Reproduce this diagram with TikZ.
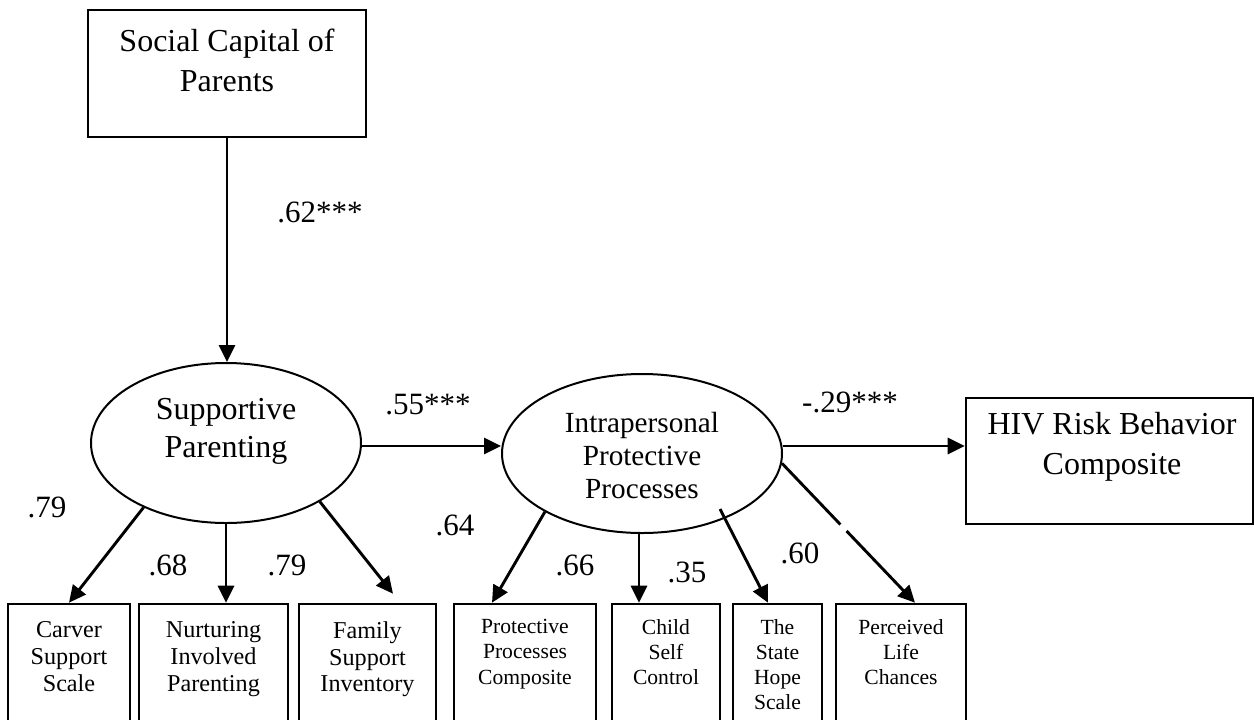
\documentclass[tikz,border=0pt]{standalone}
\usepackage{fontspec}
\setmainfont{Liberation Serif}
\usetikzlibrary{arrows.meta,shapes.geometric,calc}
\tikzset{
  box/.style={draw, rectangle, line width=1.3pt, inner sep=0pt},
  lat/.style={draw, ellipse, line width=1pt, inner sep=0pt},
  arr/.style={-{Triangle[length=8.5pt,width=8pt]}, line width=1.45pt},
  bigtxt/.style={font=\fontsize{16}{20}\selectfont, align=center, inner sep=0pt},
  midtxt/.style={font=\fontsize{14.6}{16.5}\selectfont, align=center, inner sep=0pt},
  lefttxt/.style={font=\fontsize{12.1}{13.4}\selectfont, align=center, inner sep=0pt, anchor=north},
  righttxt/.style={font=\fontsize{10.8}{12.6}\selectfont, align=center, inner sep=0pt, anchor=north},
  lab/.style={font=\fontsize{15.5}{18}\selectfont, inner sep=0pt}
}
\begin{document}
\begin{tikzpicture}[x=0.5pt,y=-0.5pt]
\useasboundingbox (0,0) rectangle (1254,719);
\fill[white] (0,0) rectangle (1254,719);

% top box
\node[box, minimum width=139pt, minimum height=63.5pt] (sc) at (227,73.5) {};
\node[bigtxt] (sctxt) at (227,60) {Social Capital of\\Parents};

% latent variables
\node[lat, minimum width=135pt, minimum height=80pt] (sp) at (226,443) {};
\node[bigtxt, font=\fontsize{16}{19}\selectfont] (sptxt) at (226,431) {Supportive\\Parenting};
\node[lat, minimum width=140pt, minimum height=79.5pt] (ip) at (642,453.5) {};
\node[midtxt] (iptxt) at (642,456) {Intrapersonal\\Protective\\Processes};

% outcome
\node[box, minimum width=143.5pt, minimum height=63pt] (hiv) at (1109.5,461) {};
\node[bigtxt] (hivtxt) at (1112,447) {HIV Risk Behavior\\Composite};

% indicators
\node[box, minimum width=61pt, minimum height=60.5pt] (cs) at (69,664.5) {};
\node[box, minimum width=74.5pt, minimum height=60.5pt] (nu) at (213.5,664.5) {};
\node[box, minimum width=68.5pt, minimum height=60.5pt] (fa) at (367.5,664.5) {};
\node[box, minimum width=71pt, minimum height=60.5pt] (pr) at (525,664.5) {};
\node[box, minimum width=54pt, minimum height=60.5pt] (ch) at (666,664.5) {};
\node[box, minimum width=44.5pt, minimum height=60.5pt] (st) at (777.5,664.5) {};
\node[box, minimum width=65pt, minimum height=60.5pt] (pe) at (901,664.5) {};

\node[lefttxt] (cstxt) at (69,621) {Carver\\Support\\Scale};
\node[lefttxt] (nutxt) at (213.5,621) {Nurturing\\Involved\\Parenting};
\node[lefttxt] (fatxt) at (367.5,621) {Family\\Support\\Inventory};
\node[righttxt] (prtxt) at (525,619) {Protective\\Processes\\Composite};
\node[righttxt] (chtxt) at (666,619) {Child\\Self\\Control};
\node[righttxt] (sttxt) at (777.5,619) {The\\State\\Hope\\Scale};
\node[righttxt] (petxt) at (901,619) {Perceived\\Life\\Chances};

% structural paths
\draw[arr] (sc.south) -- (sc.south |- sp.north);
\draw[arr] ([yshift=-1.5pt]sp.east) -- ([yshift=-1.5pt]sp.east -| ip.west);
\draw[arr] ([yshift=3.75pt]ip.east) -- ([yshift=3.75pt]ip.east -| hiv.west);

% loadings
\draw[arr] (sp.218) -- (cs.north);
\draw[arr] (sp.south) -- (sp.south |- nu.north);
\draw[arr] (sp.328) -- ([xshift=12.75pt,yshift=4.5pt]fa.north);
\draw[arr] (ip.211) -- ([xshift=-16.5pt]pr.north);
\draw[arr] ([xshift=-1.5pt]ip.south) -- ([xshift=-1.5pt]ip.south |- ch.north);
\draw[arr] ([xshift=39pt,yshift=-27.75pt]ip.center) -- ([xshift=-4.75pt]st.north);
\coordinate (peend) at ([xshift=7pt]pe.north);
\draw[arr] (ip.356) -- (peend);
\draw[white, line width=3pt] ($(ip.356)!0.44!(peend)$) -- ($(ip.356)!0.485!(peend)$);

% labels
\node[lab] (l62) at (320,212) {.62***};
\node[lab] (l55) at (428,405) {.55***};
\node[lab] (l29) at (850,402) {-.29***};
\node[lab] (l79a) at (47,507) {.79};
\node[lab] (l68) at (168,565) {.68};
\node[lab] (l79b) at (287,565) {.79};
\node[lab] (l64) at (455,525) {.64};
\node[lab] (l66) at (575,565) {.66};
\node[lab] (l35) at (687,572) {.35};
\node[lab] (l60) at (800,553) {.60};
\end{tikzpicture}
\end{document}
